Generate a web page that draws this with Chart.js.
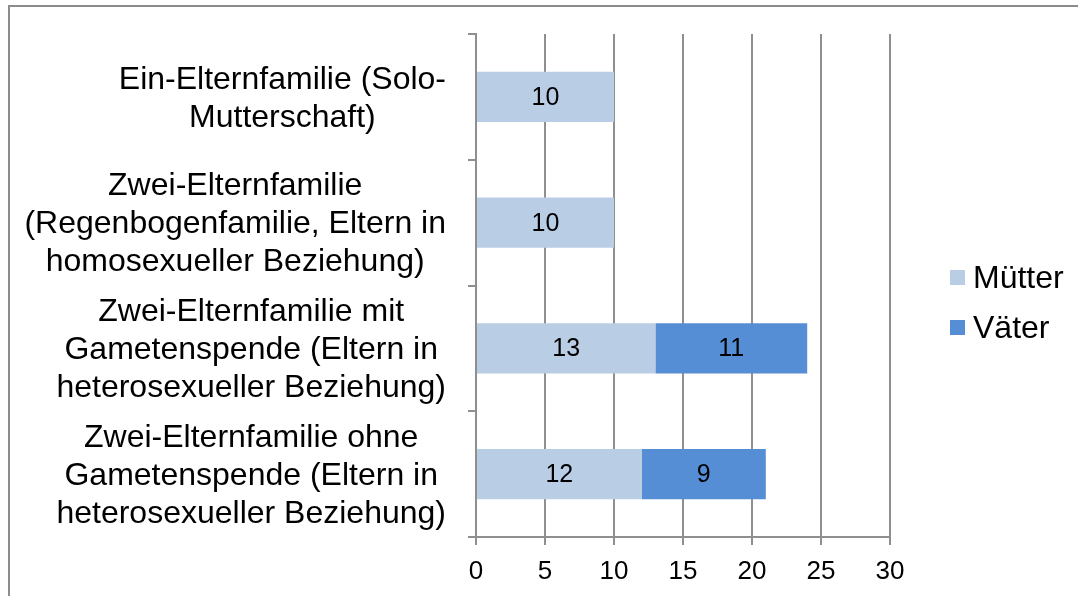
<!DOCTYPE html>
<html>
<head>
<meta charset="utf-8">
<script src="https://cdn.jsdelivr.net/npm/chart.js@4"></script>
<style>
    html, body { margin: 0; padding: 0; background: #fff; overflow: hidden; }
    #wrap { position: relative; width: 1078px; height: 596px; }
    #frame {
        position: absolute; left: 8px; top: 5px; width: 1200px; height: 700px;
        border: 2px solid #8c8c8c; box-sizing: border-box;
    }
    canvas { position: absolute; left: 0; top: 0; }
</style>
</head>
<body>
<div id="wrap">
    <div id="frame"></div>
    <canvas id="familyChart" width="1078" height="596"></canvas>
</div>
<script>
// Family types (top to bottom) and counts per parent role
const categories = [
    ['Ein-Elternfamilie (Solo-', 'Mutterschaft)'],
    ['Zwei-Elternfamilie', '(Regenbogenfamilie, Eltern in', 'homosexueller Beziehung)'],
    ['Zwei-Elternfamilie mit', 'Gametenspende (Eltern in', 'heterosexueller Beziehung)'],
    ['Zwei-Elternfamilie ohne', 'Gametenspende (Eltern in', 'heterosexueller Beziehung)']
];
const muetter = [10, 10, 13, 12];
const vaeter = [null, null, 11, 9];
const xTicks = [0, 5, 10, 15, 20, 25, 30];

const gridColor = '#8f8f8f';
const fontFamily = '"Liberation Sans", Arial, sans-serif';

// Category labels: each block sits right next to the axis, its lines centred in the block
const categoryLabels = {
    id: 'categoryLabels',
    afterDraw(chart) {
        const ctx = chart.ctx;
        const yScale = chart.scales.y;
        const lineH = 38;
        ctx.save();
        ctx.font = '32px ' + fontFamily;
        ctx.fillStyle = '#000';
        ctx.textAlign = 'center';
        ctx.textBaseline = 'middle';
        chart.data.labels.forEach((lines, i) => {
            const blockW = Math.max(...lines.map(l => ctx.measureText(l).width));
            const cx = yScale.right - 30 - blockW / 2;
            const cy = yScale.getPixelForValue(i) + 2;
            lines.forEach((l, k) => {
                ctx.fillText(l, cx, cy + (k - (lines.length - 1) / 2) * lineH);
            });
        });
        ctx.restore();
    }
};

// Draws the value in the middle of every bar segment
const barValueLabels = {
    id: 'barValueLabels',
    afterDatasetsDraw(chart) {
        const ctx = chart.ctx;
        ctx.save();
        ctx.font = '25px ' + fontFamily;
        ctx.fillStyle = '#000';
        ctx.textAlign = 'center';
        ctx.textBaseline = 'middle';
        chart.data.datasets.forEach((ds, i) => {
            chart.getDatasetMeta(i).data.forEach((bar, j) => {
                const v = ds.data[j];
                if (v === null || v === 0) return;
                const p = bar.getProps(['x', 'y', 'base'], true);
                ctx.fillText(String(v), (p.x + p.base) / 2, p.y + 1);
            });
        });
        ctx.restore();
    }
};

// Legend on the right, square + text per dataset
const sideLegend = {
    id: 'sideLegend',
    afterDraw(chart) {
        const ctx = chart.ctx;
        ctx.save();
        ctx.font = '32px ' + fontFamily;
        ctx.textBaseline = 'middle';
        chart.data.datasets.forEach((ds, i) => {
            const cy = 278 + i * 50;
            ctx.fillStyle = ds.backgroundColor;
            ctx.fillRect(950, cy - 8, 15, 15);
            ctx.fillStyle = '#000';
            ctx.fillText(ds.label, 973, cy + 1);
        });
        ctx.restore();
    }
};

new Chart(document.getElementById('familyChart').getContext('2d'), {
    type: 'bar',
    data: {
        labels: categories,
        datasets: [{
            label: 'Mütter',
            data: muetter,
            backgroundColor: '#b9cde5'
        }, {
            label: 'Väter',
            data: vaeter,
            backgroundColor: '#558ed5'
        }]
    },
    options: {
        indexAxis: 'y',
        responsive: false,
        animation: false,
        barPercentage: 0.4,
        categoryPercentage: 1,
        layout: {
            padding: { top: 34, right: 188, bottom: 0, left: 0 }
        },
        plugins: {
            legend: { display: false },
            tooltip: { enabled: false }
        },
        scales: {
            x: {
                stacked: true,
                min: 0,
                max: 30,
                afterBuildTicks(scale) {
                    scale.ticks = xTicks.map(v => ({ value: v }));
                },
                afterFit(scale) {
                    scale.height = 59;
                },
                grid: {
                    color: gridColor,
                    lineWidth: 2,
                    tickLength: 8
                },
                border: {
                    color: gridColor,
                    width: 2
                },
                ticks: {
                    color: '#000',
                    padding: 11,
                    maxRotation: 0,
                    font: { family: fontFamily, size: 26 }
                }
            },
            y: {
                stacked: true,
                afterFit(scale) {
                    scale.width = 476;
                    scale.paddingTop = 0;
                    scale.paddingBottom = 0;
                },
                grid: {
                    offset: true,
                    drawOnChartArea: false,
                    color: gridColor,
                    lineWidth: 2,
                    tickLength: 8
                },
                border: {
                    color: gridColor,
                    width: 2
                },
                ticks: {
                    display: false,
                    autoSkip: false
                }
            }
        }
    },
    plugins: [barValueLabels, categoryLabels, sideLegend]
});
</script>
</body>
</html>
